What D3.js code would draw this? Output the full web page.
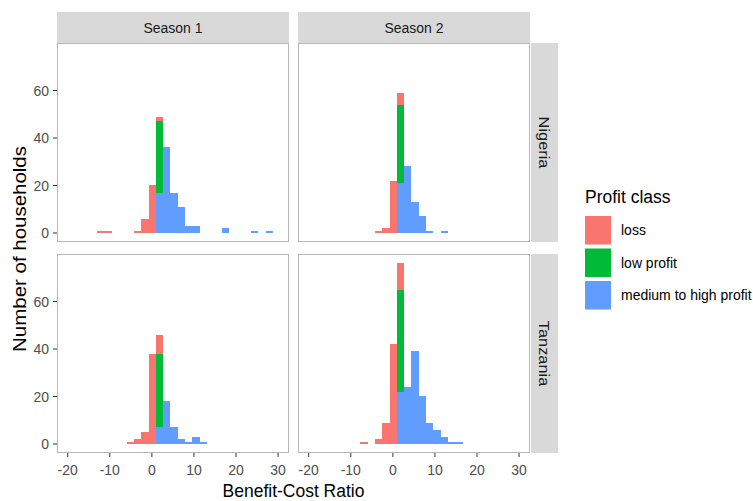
<!DOCTYPE html>
<html>
<head>
<meta charset="utf-8">
<script src="https://cdn.jsdelivr.net/npm/d3@7"></script>
<style>
  body { margin: 0; background: #fff; }
  svg { display: block; font-family: "Liberation Sans", Arial, sans-serif; }
</style>
</head>
<body>
<div id="chart"></div>
<script>
// bins: lower edge = binStart + k * binWidth
const binStart = 0.95;
const binWidth = 1.74;
const binIndex = [-8, -7, -6, -5, -4, -3, -2, -1, 0, 1, 2, 3, 4, 5, 6, 7, 8, 9, 10, 11, 12, 13, 14, 15];

const classes = ['loss', 'low profit', 'medium to high profit'];
const classColors = ['#F8766D', '#00BA38', '#619CFF'];
const seasons = ['Season 1', 'Season 2'];
const countries = ['Nigeria', 'Tanzania'];

const nigeriaS1Loss = [1, 1, 0, 0, 0, 1, 6, 20, 2, 0, 0, 0, 0, 0, 0, 0, 0, 0, 0, 0, 0, 0, 0, 0];
const nigeriaS1Low  = [0, 0, 0, 0, 0, 0, 0, 0, 30, 0, 0, 0, 0, 0, 0, 0, 0, 0, 0, 0, 0, 0, 0, 0];
const nigeriaS1Med  = [0, 0, 0, 0, 0, 0, 0, 0, 17, 36, 17, 11, 3, 3, 0, 0, 0, 2, 0, 0, 0, 1, 0, 1];

const nigeriaS2Loss = [0, 0, 0, 0, 0, 1, 2, 22, 5, 0, 0, 0, 0, 0, 0, 0, 0, 0, 0, 0, 0, 0, 0, 0];
const nigeriaS2Low  = [0, 0, 0, 0, 0, 0, 0, 0, 33, 0, 0, 0, 0, 0, 0, 0, 0, 0, 0, 0, 0, 0, 0, 0];
const nigeriaS2Med  = [0, 0, 0, 0, 0, 0, 0, 0, 21, 28, 13, 7, 1, 0, 1, 0, 0, 0, 0, 0, 0, 0, 0, 0];

const tanzaniaS1Loss = [0, 0, 0, 0, 1, 2, 5, 38, 8, 0, 0, 0, 0, 0, 0, 0, 0, 0, 0, 0, 0, 0, 0, 0];
const tanzaniaS1Low  = [0, 0, 0, 0, 0, 0, 0, 0, 31, 0, 0, 0, 0, 0, 0, 0, 0, 0, 0, 0, 0, 0, 0, 0];
const tanzaniaS1Med  = [0, 0, 0, 0, 0, 0, 0, 0, 7, 18, 7, 2, 1, 3, 1, 0, 0, 0, 0, 0, 0, 0, 0, 0];

const tanzaniaS2Loss = [0, 0, 0, 1, 0, 2, 9, 42, 11, 0, 0, 0, 0, 0, 0, 0, 0, 0, 0, 0, 0, 0, 0, 0];
const tanzaniaS2Low  = [0, 0, 0, 0, 0, 0, 0, 0, 43, 0, 0, 0, 0, 0, 0, 0, 0, 0, 0, 0, 0, 0, 0, 0];
const tanzaniaS2Med  = [0, 0, 0, 0, 0, 0, 0, 0, 22, 24, 39, 20, 9, 6, 3, 1, 1, 0, 0, 0, 0, 0, 0, 0];

const xTicks = [-20, -10, 0, 10, 20, 30];
const yTicks = [0, 20, 40, 60];

const panels = [
    {country: 'Nigeria', season: 'Season 1', series: [nigeriaS1Loss, nigeriaS1Low, nigeriaS1Med]},
    {country: 'Nigeria', season: 'Season 2', series: [nigeriaS2Loss, nigeriaS2Low, nigeriaS2Med]},
    {country: 'Tanzania', season: 'Season 1', series: [tanzaniaS1Loss, tanzaniaS1Low, tanzaniaS1Med]},
    {country: 'Tanzania', season: 'Season 2', series: [tanzaniaS2Loss, tanzaniaS2Low, tanzaniaS2Med]},
];

const width = 753;
const height = 501;

// layout
const colX = [57, 298];
const rowY = [43, 254];
const panelW = 232;
const panelH = 199;
const stripH = 31;
const stripW = 27;

// the reference is a bit stretched vertically
const stretch = 1.1;
const stretchV = 1.17;

const tickColor = '#333333';
const tickText = '#4D4D4D';
const borderColor = '#B8B8B8';
const stripFill = '#D9D9D9';

const x = d3.scaleLinear().domain([-22.55, 32.6]).range([0, panelW]);
const y = d3.scaleLinear().domain([-3.8, 80]).range([panelH, 0]);

const svg = d3.select('#chart').append('svg')
    .attr('width', width)
    .attr('height', height);

// horizontal text, stretched a little in y
function hText(sel, tx, ty, str, size, fill, anchor = 'start', baseline = 'auto') {
    return sel.append('text')
        .attr('transform', `translate(${tx}, ${ty}) scale(1, ${stretch})`)
        .attr('text-anchor', anchor)
        .attr('dominant-baseline', baseline)
        .style('font-size', size)
        .style('fill', fill)
        .text(str);
}

// stack order: first level (loss) on top, as ggplot does
const stack = d3.stack().keys([2, 1, 0]);

panels.forEach(p => {
    const ci = seasons.indexOf(p.season);
    const ri = countries.indexOf(p.country);
    const g = svg.append('g')
        .attr('transform', `translate(${colX[ci]}, ${rowY[ri]})`);

    g.append('rect')
        .attr('width', panelW)
        .attr('height', panelH)
        .attr('fill', '#fff');

    const rows = binIndex.map((k, i) => ({
        edge: binStart + k * binWidth,
        0: p.series[0][i],
        1: p.series[1][i],
        2: p.series[2][i],
    }));
    const layers = stack(rows);

    layers.forEach(layer => {
        g.append('g')
            .selectAll('rect')
            .data(layer.filter(d => d[1] > d[0]))
            .enter()
            .append('rect')
            .attr('x', d => x(d.data.edge))
            .attr('width', d => x(d.data.edge + binWidth) - x(d.data.edge))
            .attr('y', d => y(d[1]))
            .attr('height', d => y(d[0]) - y(d[1]))
            .attr('fill', classColors[layer.key])
            .attr('shape-rendering', 'crispEdges');
    });

    g.append('rect')
        .attr('x', 0.5)
        .attr('y', 0.5)
        .attr('width', panelW - 1)
        .attr('height', panelH - 1)
        .attr('fill', 'none')
        .attr('stroke', borderColor)
        .attr('stroke-width', 1);

    // top strips
    if (ri === 0) {
        const s = svg.append('g').attr('transform', `translate(${colX[ci]}, ${rowY[0] - stripH})`);
        s.append('rect').attr('width', panelW).attr('height', stripH).attr('fill', stripFill);
        hText(s, panelW / 2, stripH / 2, p.season, '14px', '#1A1A1A', 'middle', 'central');
    }

    // right strips
    if (ci === 1) {
        const s = svg.append('g').attr('transform', `translate(${colX[1] + panelW + 1}, ${rowY[ri]})`);
        s.append('rect').attr('width', stripW).attr('height', panelH).attr('fill', stripFill);
        s.append('text')
            .attr('transform', `translate(${stripW / 2}, ${panelH / 2}) rotate(90) scale(${stretchV}, 1)`)
            .attr('text-anchor', 'middle')
            .attr('dominant-baseline', 'central')
            .style('font-size', '14px')
            .style('fill', '#1A1A1A')
            .text(p.country);
    }

    // y axis on left column
    if (ci === 0) {
        const ya = g.append('g');
        yTicks.forEach(t => {
            ya.append('line')
                .attr('x1', -4).attr('x2', 0)
                .attr('y1', y(t)).attr('y2', y(t))
                .attr('stroke', tickColor);
            hText(ya, -8, y(t), t, '14px', tickText, 'end', 'central');
        });
    }

    // x axis on bottom row
    if (ri === 1) {
        const xa = g.append('g').attr('transform', `translate(0, ${panelH})`);
        xTicks.forEach(t => {
            xa.append('line')
                .attr('x1', x(t)).attr('x2', x(t))
                .attr('y1', 0).attr('y2', 4)
                .attr('stroke', tickColor);
            hText(xa, x(t), 21.5, t, '14px', tickText, 'middle');
        });
    }
});

// axis titles
hText(svg, (colX[0] + colX[1] + panelW) / 2, 497, 'Benefit-Cost Ratio', '17.5px', '#000', 'middle');

svg.append('text')
    .attr('transform', `translate(26, ${(rowY[0] + rowY[1] + panelH) / 2 + 1}) rotate(-90) scale(${stretchV}, 1)`)
    .attr('text-anchor', 'middle')
    .style('font-size', '17.5px')
    .style('fill', '#000')
    .text('Number of households');

// legend
const legend = svg.append('g').attr('transform', 'translate(585, 203)');
hText(legend, 0, 0, 'Profit class', '17.5px', '#000');

classes.forEach((c, i) => {
    const ky = 13 + i * 32.5;
    legend.append('rect')
        .attr('x', 0)
        .attr('y', ky)
        .attr('width', 26)
        .attr('height', 28.5)
        .attr('fill', classColors[i]);
    hText(legend, 36, ky + 14.25, c, '14px', '#000', 'start', 'central');
});
</script>
</body>
</html>
